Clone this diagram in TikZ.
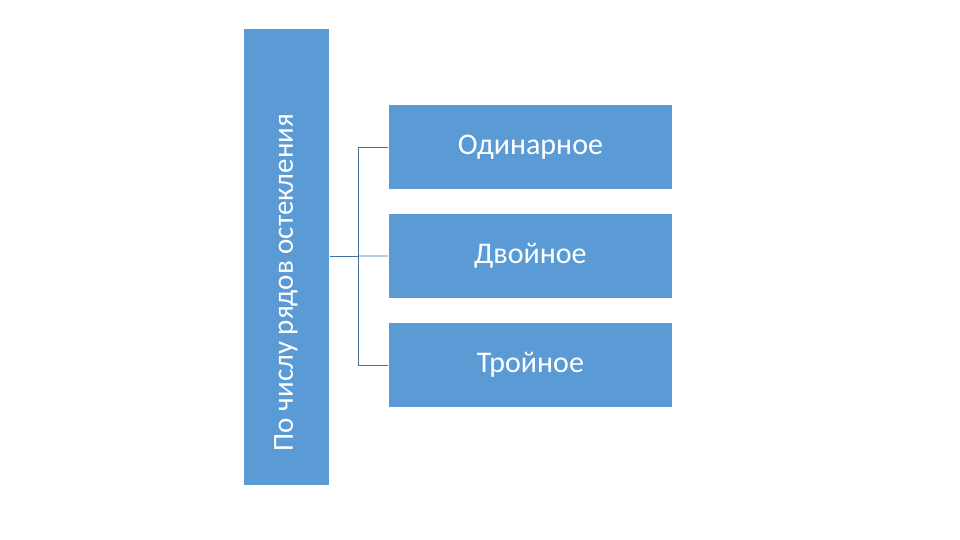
\documentclass[tikz,border=0pt]{standalone}
\usepackage{fontspec}
\setmainfont{Carlito}
\definecolor{boxfill}{HTML}{5B9BD5}
\definecolor{linec}{HTML}{41719C}
\begin{document}
\begin{tikzpicture}[x=1pt,y=1pt,
  box/.style={fill=boxfill,draw=white,line width=0.8pt,text=white,inner sep=0pt,font=\fontsize{30}{36}\selectfont},
  conn/.style={draw=linec,line width=0.7pt}]
\useasboundingbox (0,0) rectangle (960,540);
\node[box,minimum width=86,minimum height=457,anchor=south west] (root) at (243,54) {};
\node[text=white,rotate=90,font=\fontsize{29}{34}\selectfont] (rt) at (286,257.5) {По числу рядов остекления};
\node[box,minimum width=284,minimum height=85,anchor=south west] (a) at (388,350) {Одинарное};
\node[box,minimum width=284,minimum height=85,anchor=south west] (b) at (388,241) {Двойное};
\node[box,minimum width=284,minimum height=85,anchor=south west] (c) at (388,132) {Тройное};
\coordinate (j) at (358,284);
\draw[conn] (root.east |- j) -- (j);
\draw[conn] (j) |- (a.west);
\draw[conn] (j) |- (c.west);
\draw[conn] (j) -- (b.west);
\end{tikzpicture}
\end{document}
